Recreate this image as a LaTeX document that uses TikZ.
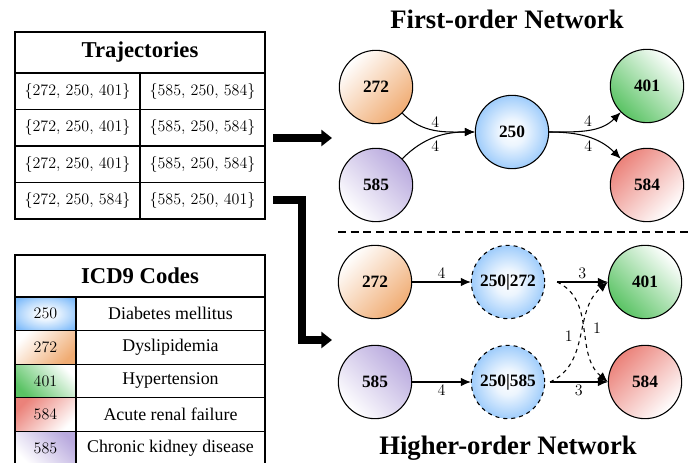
\documentclass[tikz,border=0pt]{standalone}
\usepackage{fontspec}
\newfontfamily\libfont{Liberation Serif}
\usetikzlibrary{arrows.meta}

\definecolor{c250}{RGB}{128,188,250}
\definecolor{c272}{RGB}{240,172,115}
\definecolor{c401}{RGB}{90,195,100}
\definecolor{c584}{RGB}{235,130,122}
\definecolor{c585}{RGB}{185,170,222}

\pgfdeclareradialshading{glow250}{\pgfpoint{0bp}{0bp}}{color(0bp)=(white); color(9bp)=(white!85!c250); color(21bp)=(white!40!c250); color(31bp)=(c250); color(50bp)=(c250)}

\begin{document}
\begin{tikzpicture}[x=0.75pt, y=0.75pt,
    netnode/.style={circle, draw, line width=0.8pt, minimum size=55pt, inner sep=0pt, font=\libfont\fontsize{13}{15}\selectfont\bfseries},
    edge/.style={line width=0.8pt, -{Latex[length=7.5pt,width=6.5pt]}},
    wlabel/.style={font=\fontsize{12}{14}\selectfont, inner sep=2pt},
    bigarrow/.style={line width=6pt, -{Triangle[length=8pt,width=12pt]}},
    title/.style={font=\libfont\fontsize{20}{24}\selectfont\bfseries},
    headcell/.style={draw, line width=1pt, minimum width=187.5pt, inner sep=0pt, font=\libfont\fontsize{17}{20}\selectfont\bfseries},
    trajcell/.style={draw, line width=1pt, minimum width=93.75pt, minimum height=27.4pt, inner sep=0pt, font=\fontsize{12}{14}\selectfont},
    codecell/.style={draw, line width=1pt, minimum width=45.75pt, minimum height=25.2pt, inner sep=0pt, font=\fontsize{12}{14}\selectfont},
    desccell/.style={draw, line width=1pt, minimum width=141.75pt, minimum height=25.2pt, inner sep=0pt, font=\libfont\fontsize{13.4}{16}\selectfont},
    s250/.style={shading=glow250},
    s272/.style={top color=white, bottom color=c272, shading angle=45},
    s401/.style={top color=white, bottom color=c401, shading angle=-45},
    s584/.style={top color=c584, bottom color=white, shading angle=45},
    s585/.style={top color=c585, bottom color=white, shading angle=-45},
  ]
    \useasboundingbox (0, 0) rectangle (688, 463);

    % trajectories table
    \node[headcell, minimum height=30.75pt] (traj) at (140, 410.5) {Trajectories};
    \node[trajcell] (t11) at (77.5, 371.75) {\{272, 250, 401\}};
    \node[trajcell] (t12) at (202.5, 371.75) {\{585, 250, 584\}};
    \node[trajcell] (t21) at (77.5, 335.25) {\{272, 250, 401\}};
    \node[trajcell] (t22) at (202.5, 335.25) {\{585, 250, 584\}};
    \node[trajcell] (t31) at (77.5, 298.75) {\{272, 250, 401\}};
    \node[trajcell] (t32) at (202.5, 298.75) {\{585, 250, 584\}};
    \node[trajcell] (t41) at (77.5, 262.25) {\{272, 250, 584\}};
    \node[trajcell] (t42) at (202.5, 262.25) {\{585, 250, 401\}};

    % ICD9 table
    \node[headcell, minimum height=31.5pt] (icd) at (140, 187) {ICD9 Codes};
    \node[codecell, s250] (k250) at (45.5, 149.2) {250};
    \node[desccell] (d250) at (170.5, 149.2) {Diabetes mellitus};
    \node[codecell, s272] (k272) at (45.5, 115.6) {272};
    \node[desccell] (d272) at (170.5, 115.6) {Dyslipidemia};
    \node[codecell, s401] (k401) at (45.5, 82) {401};
    \node[desccell] (d401) at (170.5, 82) {Hypertension};
    \node[codecell, s584] (k584) at (45.5, 48.4) {584};
    \node[desccell] (d584) at (170.5, 48.4) {Acute renal failure};
    \node[codecell, s585] (k585) at (45.5, 14.8) {585};
    \node[desccell] (d585) at (170.5, 14.8) {Chronic kidney disease};

    % arrows from the table
    \coordinate (a1s) at (273, 325);
    \coordinate (a1e) at (332, 325);
    \coordinate (a2s) at (273, 263);
    \coordinate (a2e) at (332, 123);
    \draw[bigarrow] (a1s) -- (a1e);
    \draw[bigarrow] (a2s) -- ++(29, 0) |- (a2e);

    % first-order network
    \node[title] (tfirst) at (507, 444) {First-order Network};
    \node[netnode, s272] (f272) at (376, 376) {272};
    \node[netnode, s585] (f585) at (376, 278) {585};
    \node[netnode, s250] (f250) at (512, 331) {250};
    \node[netnode, s401] (f401) at (647, 377) {401};
    \node[netnode, s584] (f584) at (647, 278) {584};
    \draw[edge] (f272) to[out=-45, in=180] node[wlabel, midway, above] {4} (f250);
    \draw[edge] (f585) to[out=45, in=180] node[wlabel, midway, below] {4} (f250);
    \draw[edge] (f250) to[out=0, in=-135] node[wlabel, midway, above] {4} (f401);
    \draw[edge] (f250) to[out=0, in=135] node[wlabel, midway, below] {4} (f584);

    \draw[dashed, line width=0.8pt, dash pattern=on 6pt off 3.5pt] (338, 231) -- (688, 231);

    % higher-order network
    \node[title] (thigher) at (508, 15) {Higher-order Network};
    \node[netnode, s272] (h272) at (375, 181) {272};
    \node[netnode, s585] (h585) at (375, 81) {585};
    \node[netnode, s250, dashed] (h250a) at (508, 181) {250|272};
    \node[netnode, s250, dashed] (h250b) at (508, 81) {250|585};
    \node[netnode, s401] (h401) at (645, 181) {401};
    \node[netnode, s584] (h584) at (645, 81) {584};
    \coordinate (o272) at (557, 181);
    \coordinate (o585) at (550, 81);
    \draw[edge] (h272) -- node[wlabel, above] {4} (h250a);
    \draw[edge] (h585) -- node[wlabel, below] {4} (h250b);
    \draw[edge] (o272) -- node[wlabel, above] {3} (h401);
    \draw[edge] (o585) -- node[wlabel, below] {3} (h584);
    \draw[edge, dashed] (o272) to[out=-25, in=140] node[wlabel, pos=0.5, right=4pt] {1} (h584.west);
    \draw[edge, dashed] (o585) to[out=25, in=-140] node[wlabel, pos=0.5, left=4pt] {1} (h401.west);
\end{tikzpicture}
\end{document}
